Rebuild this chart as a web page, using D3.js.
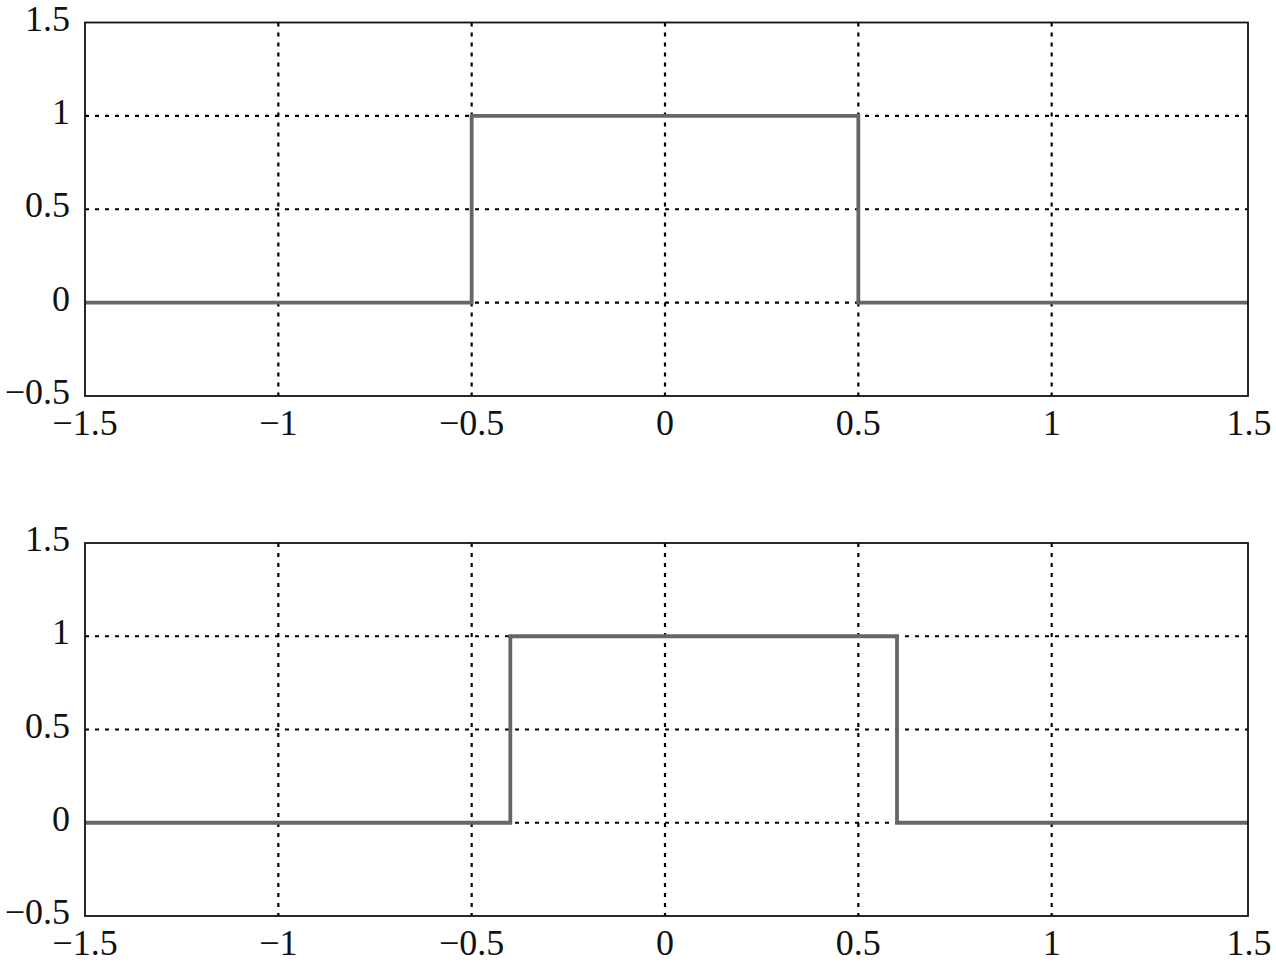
<!DOCTYPE html>
<html><head><meta charset="utf-8">
<script src="https://cdn.jsdelivr.net/npm/d3@7"></script>
<style>html,body{margin:0;padding:0;background:#fff;}</style>
</head><body>
<svg id="c" width="1276" height="963"></svg>
<script>
const xTicks = [-1.5, -1, -0.5, 0, 0.5, 1, 1.5];
const yTicks = [-0.5, 0, 0.5, 1, 1.5];
const topX = [-1.5, -0.5, -0.5, 0.5, 0.5, 1.5];
const topY = [0, 0, 1, 1, 0, 0];
const botX = [-1.5, -0.4, -0.4, 0.6, 0.6, 1.5];
const botY = [0, 0, 1, 1, 0, 0];

const svg = d3.select("#c");
const fmt = v => (v < 0 ? "\u2212" : "") + String(Math.abs(v));
const FONT = "'Liberation Serif', 'Times New Roman', serif";

function panel(top, bottom, xs, ys) {
  const x = d3.scaleLinear().domain([-1.5, 1.5]).range([85, 1245]);
  const y = d3.scaleLinear().domain([-0.5, 1.5]).range([bottom, top]);
  const right = 1248;
  const g = svg.append("g");
  // grid
  g.selectAll(".vg").data(xTicks.slice(1, -1)).enter().append("line")
    .attr("x1", d => x(d)).attr("x2", d => x(d)).attr("y1", top).attr("y2", bottom)
    .attr("stroke", "#000").attr("stroke-width", 2.2).attr("stroke-dasharray", "4,6");
  g.selectAll(".hg").data(yTicks.slice(1, -1)).enter().append("line")
    .attr("y1", d => y(d)).attr("y2", d => y(d)).attr("x1", x(-1.5)).attr("x2", right)
    .attr("stroke", "#000").attr("stroke-width", 2.2).attr("stroke-dasharray", "4,6");
  // data line
  const pts = xs.map((v, i) => [v, ys[i]]);
  pts[pts.length - 1][0] = x.invert(right);
  g.append("path").datum(pts)
    .attr("d", d3.line().x(d => x(d[0])).y(d => y(d[1])))
    .attr("fill", "none").attr("stroke", "#666").attr("stroke-width", 3.8);
  // frame
  g.append("rect").attr("x", x(-1.5)).attr("y", top).attr("width", right - x(-1.5)).attr("height", bottom - top)
    .attr("fill", "none").attr("stroke", "#111").attr("stroke-width", 1.8);
  // tick labels
  g.selectAll(".xl").data(xTicks).enter().append("text")
    .attr("x", d => d === 1.5 ? right + 1 : x(d)).attr("y", bottom + 39).attr("text-anchor", "middle")
    .attr("font-family", FONT).attr("font-size", 36)
    .attr("fill", "#111").text(fmt);
  g.selectAll(".yl").data(yTicks).enter().append("text")
    .attr("x", 70).attr("y", d => y(d) + 8).attr("text-anchor", "end")
    .attr("font-family", FONT).attr("font-size", 36)
    .attr("fill", "#111").text(fmt);
}
panel(22.5, 396, topX, topY);
panel(543, 916, botX, botY);
</script>
</body></html>
